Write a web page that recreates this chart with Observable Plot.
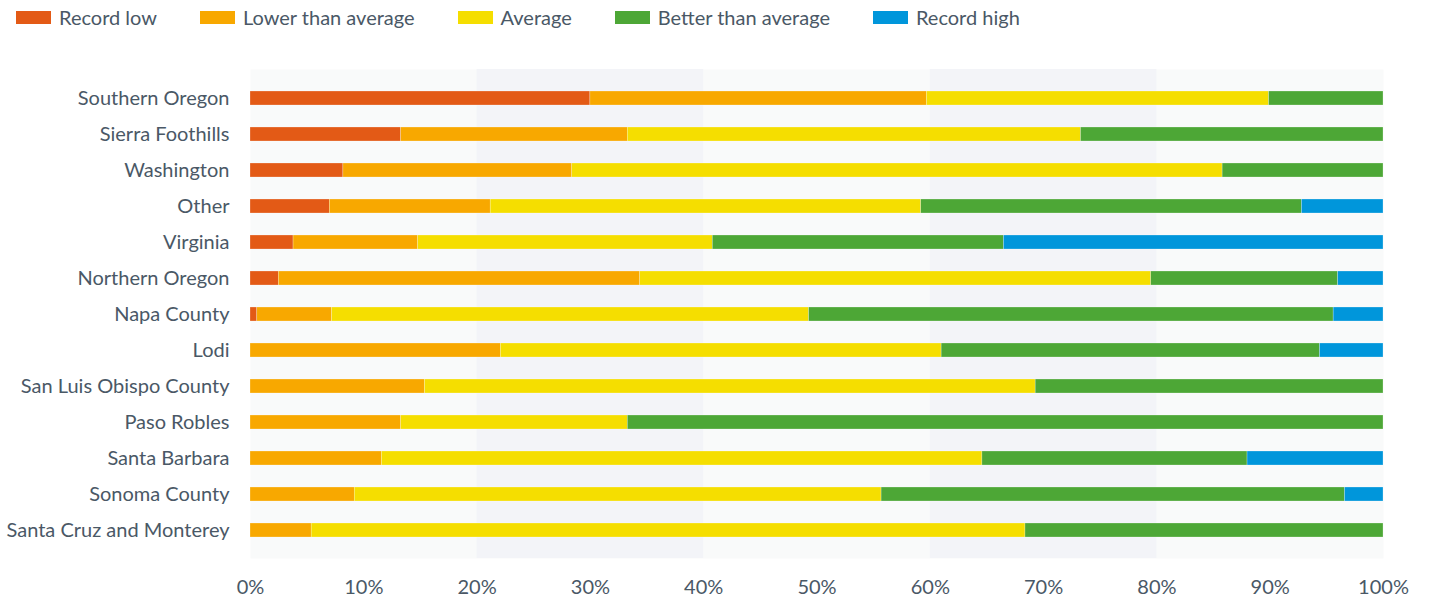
<!DOCTYPE html>
<html>
<head>
<meta charset="utf-8">
<script src="https://cdn.jsdelivr.net/npm/d3@7"></script>
<script src="https://cdn.jsdelivr.net/npm/@observablehq/plot@0.6"></script>
<style>
  html, body { margin: 0; padding: 0; background: #fff; }
  body { width: 1434px; height: 598px; overflow: hidden; font-family: Lato, sans-serif; color: #4a5866; }
  #legend { height: 34px; display: flex; align-items: center; padding-left: 16px; box-sizing: border-box; font-size: 20px; }
  .item { display: flex; align-items: center; margin-right: 43px; }
  .sw { width: 35px; height: 13px; margin-right: 8px; }
</style>
</head>
<body>
<div id="legend"></div>
<div id="chart"></div>
<script>
const regions = ["Southern Oregon", "Sierra Foothills", "Washington", "Other", "Virginia", "Northern Oregon", "Napa County", "Lodi", "San Luis Obispo County", "Paso Robles", "Santa Barbara", "Sonoma County", "Santa Cruz and Monterey"];
const categories = ["Record low", "Lower than average", "Average", "Better than average", "Record high"];
const colors = ["#e35a16", "#f8a800", "#f5de00", "#4da736", "#0096db"];

const recordLow         = [30.0, 13.3,  8.2,  7.0,  3.8,  2.5,  0.6,  0.0,  0.0,  0.0,  0.0,  0.0,  0.0];
const lowerThanAverage  = [29.7, 20.0, 20.2, 14.2, 11.0, 31.9,  6.6, 22.1, 15.4, 13.3, 11.6,  9.2,  5.4];
const average           = [30.2, 40.0, 57.4, 38.0, 26.0, 45.1, 42.1, 38.9, 53.9, 20.0, 53.0, 46.5, 63.0];
const betterThanAverage = [10.1, 26.7, 14.2, 33.6, 25.7, 16.5, 46.3, 33.4, 30.7, 66.7, 23.4, 40.9, 31.6];
const recordHigh        = [ 0.0,  0.0,  0.0,  7.2, 33.5,  4.0,  4.4,  5.6,  0.0,  0.0, 12.0,  3.4,  0.0];

const xTicks = [0, 10, 20, 30, 40, 50, 60, 70, 80, 90, 100];
const shadedBands = [{from: 20, to: 40}, {from: 60, to: 80}];

const series = [recordLow, lowerThanAverage, average, betterThanAverage, recordHigh];
const table = [];
regions.forEach((r, i) => {
  categories.forEach((c, j) => {
    table.push({region: r, category: c, value: series[j][i]});
  });
});

// legend
const legend = document.getElementById("legend");
categories.forEach((c, j) => {
  const it = document.createElement("div");
  it.className = "item";
  const sw = document.createElement("div");
  sw.className = "sw";
  sw.style.background = colors[j];
  const t = document.createElement("span");
  t.textContent = c;
  it.appendChild(sw); it.appendChild(t);
  legend.appendChild(it);
});

const chart = Plot.plot({
  width: 1434,
  height: 564,
  marginLeft: 250,
  marginRight: 51,
  marginTop: 35,
  marginBottom: 40,
  style: {fontFamily: "Lato, sans-serif", fontSize: "20px", color: "#4a5866", background: "#fff"},
  x: {domain: [0, 100], ticks: xTicks, tickFormat: d => d + "%", label: null},
  y: {domain: regions, paddingInner: 0.625, paddingOuter: 0.6, label: null},
  color: {domain: categories, range: colors},
  marks: [
    Plot.frame({fill: "#f9fafa", stroke: null}),
    Plot.rect(shadedBands, {x1: "from", x2: "to", fill: "#f3f4f8"}),
    Plot.barX(table, Plot.stackX({x: "value", y: "region", fill: "category", order: categories, stroke: "white", strokeWidth: 0.5, strokeOpacity: 0.5})),
    Plot.axisX({ticks: xTicks, tickFormat: d => d + "%", tickSize: 0, tickPadding: 21, fontSize: 20, label: null}),
    Plot.axisY({tickSize: 0, tickPadding: 21, fontSize: 20, label: null})
  ]
});
document.getElementById("chart").appendChild(chart);
</script>
</body>
</html>
